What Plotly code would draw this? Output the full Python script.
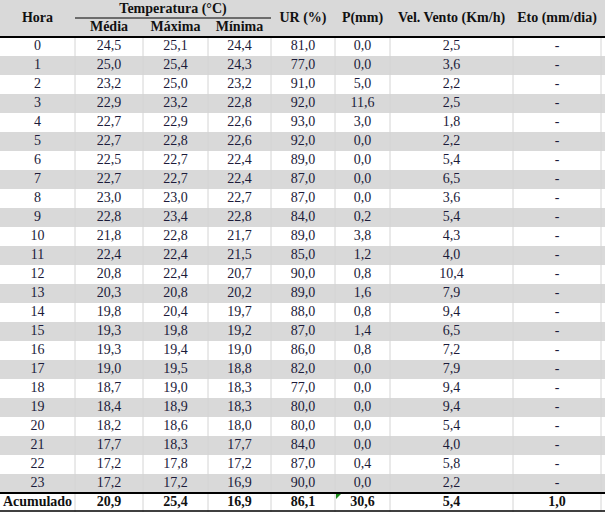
import plotly.graph_objects as go

hours = list(range(24))
t_media = [24.5, 25.0, 23.2, 22.9, 22.7, 22.7, 22.5, 22.7, 23.0, 22.8, 21.8, 22.4,
           20.8, 20.3, 19.8, 19.3, 19.3, 19.0, 18.7, 18.4, 18.2, 17.7, 17.2, 17.2]
t_max = [25.1, 25.4, 25.0, 23.2, 22.9, 22.8, 22.7, 22.7, 23.0, 23.4, 22.8, 22.4,
         22.4, 20.8, 20.4, 19.8, 19.4, 19.5, 19.0, 18.9, 18.6, 18.3, 17.8, 17.2]
t_min = [24.4, 24.3, 23.2, 22.8, 22.6, 22.6, 22.4, 22.4, 22.7, 22.8, 21.7, 21.5,
         20.7, 20.2, 19.7, 19.2, 19.0, 18.8, 18.3, 18.3, 18.0, 17.7, 17.2, 16.9]
ur = [81, 77, 91, 92, 93, 92, 89, 87, 87, 84, 89, 85,
      90, 89, 88, 87, 86, 82, 77, 80, 80, 84, 87, 90]
precip = [0.0, 0.0, 5.0, 11.6, 3.0, 0.0, 0.0, 0.0, 0.0, 0.2, 3.8, 1.2,
          0.8, 1.6, 0.8, 1.4, 0.8, 0.0, 0.0, 0.0, 0.0, 0.0, 0.4, 0.0]
vento = [2.5, 3.6, 2.2, 2.5, 1.8, 2.2, 5.4, 6.5, 3.6, 5.4, 4.3, 4.0,
         10.4, 7.9, 9.4, 6.5, 7.2, 7.9, 9.4, 9.4, 5.4, 4.0, 5.8, 2.2]
eto = [None] * 24
total_label = "Acumulado"
totals = [20.9, 25.4, 16.9, 86.1, 30.6, 5.4, 1.0]

top_headers = ["Hora", "UR (%)", "P(mm)", "Vel. Vento (Km/h)", "Eto (mm/dia)"]
group_header = "Temperatura (°C)"
sub_headers = ["Média", "Máxima", "Mínima"]

# --- layout (pixels) ---
W, H = 605, 515
borders = [0, 75, 143, 208, 271, 335, 390, 513, 601]
centers = [(a + b) / 2 for a, b in zip(borders[:-1], borders[1:])]
HEAD_H = 37
ROW_H = 19
FONT = "Liberation Serif, Times New Roman, serif"
TXT = "#1b1b3a"
BAND = "#d9d9d9"
GRID = "#d4d4d4"


def fmt(v):
    if v is None:
        return "-"
    return f"{v:.1f}".replace(".", ",")


def row_y(i):
    return HEAD_H + ROW_H * (i + 0.5)


n = len(hours)
columns = [
    [str(h) for h in hours],
    [fmt(v) for v in t_media],
    [fmt(v) for v in t_max],
    [fmt(v) for v in t_min],
    [fmt(v) for v in ur],
    [fmt(v) for v in precip],
    [fmt(v) for v in vento],
    [fmt(v) for v in eto],
]

fig = go.Figure()
ys = [row_y(i) for i in range(n)]
for cx, col in zip(centers, columns):
    fig.add_trace(go.Scatter(x=[cx] * n, y=ys, text=col, mode="text",
                             textposition="middle center",
                             textfont=dict(family=FONT, size=14, color=TXT),
                             hoverinfo="skip", showlegend=False))

# totals row
tot_text = [total_label] + [fmt(v) for v in totals]
fig.add_trace(go.Scatter(x=centers, y=[row_y(n)] * len(centers), text=tot_text,
                         mode="text",
                         textfont=dict(family=FONT, size=14, color="#111"),
                         texttemplate="<b>%{text}</b>",
                         hoverinfo="skip", showlegend=False))

# header texts
head_x = [centers[0]] + centers[4:]
fig.add_trace(go.Scatter(x=head_x, y=[HEAD_H / 2] * len(head_x), text=top_headers,
                         mode="text", texttemplate="<b>%{text}</b>",
                         textfont=dict(family=FONT, size=14, color="#111"),
                         hoverinfo="skip", showlegend=False))
fig.add_trace(go.Scatter(x=[(borders[1] + borders[4]) / 2], y=[9.5],
                         text=[group_header], mode="text",
                         texttemplate="<b>%{text}</b>",
                         textfont=dict(family=FONT, size=14, color="#111"),
                         hoverinfo="skip", showlegend=False))
fig.add_trace(go.Scatter(x=centers[1:4], y=[27.5] * 3, text=sub_headers,
                         mode="text", texttemplate="<b>%{text}</b>",
                         textfont=dict(family=FONT, size=14, color="#111"),
                         hoverinfo="skip", showlegend=False))

shapes = []
# header background
shapes.append(dict(type="rect", x0=0, x1=W, y0=0, y1=HEAD_H,
                   fillcolor=BAND, line_width=0, layer="below"))
# alternating bands
for i in range(n):
    if i % 2 == 1:
        shapes.append(dict(type="rect", x0=0, x1=W,
                           y0=HEAD_H + ROW_H * i, y1=HEAD_H + ROW_H * (i + 1),
                           fillcolor=BAND, line_width=0, layer="below"))
# vertical grid lines
for b in borders[1:]:
    shapes.append(dict(type="line", x0=b, x1=b, y0=HEAD_H,
                       y1=HEAD_H + ROW_H * (n + 1),
                       line=dict(color=GRID, width=1), layer="below"))
# black rules
for y, w in [(HEAD_H, 2), (HEAD_H + ROW_H * n, 2), (HEAD_H + ROW_H * (n + 1) - 1, 1.5)]:
    shapes.append(dict(type="line", x0=0, x1=W, y0=y, y1=y,
                       line=dict(color="black", width=w)))
shapes.append(dict(type="line", x0=borders[1], x1=borders[4], y0=18, y1=18,
                   line=dict(color="black", width=1)))
# small green marker (excel note)
tx = borders[5] + 1
ty = HEAD_H + ROW_H * n + 1
shapes.append(dict(type="path",
                   path=f"M {tx},{ty} L {tx + 5},{ty} L {tx},{ty + 5} Z",
                   fillcolor="#1a8a1a", line_width=0))

fig.update_layout(
    width=W, height=H, margin=dict(l=0, r=0, t=0, b=0),
    plot_bgcolor="white", paper_bgcolor="white",
    xaxis=dict(range=[0, W], visible=False, fixedrange=True),
    yaxis=dict(range=[H, 0], visible=False, fixedrange=True),
    shapes=shapes,
)

fig.write_html("out.html", config={"displayModeBar": False},
               post_script="document.body.style.margin='0';")
